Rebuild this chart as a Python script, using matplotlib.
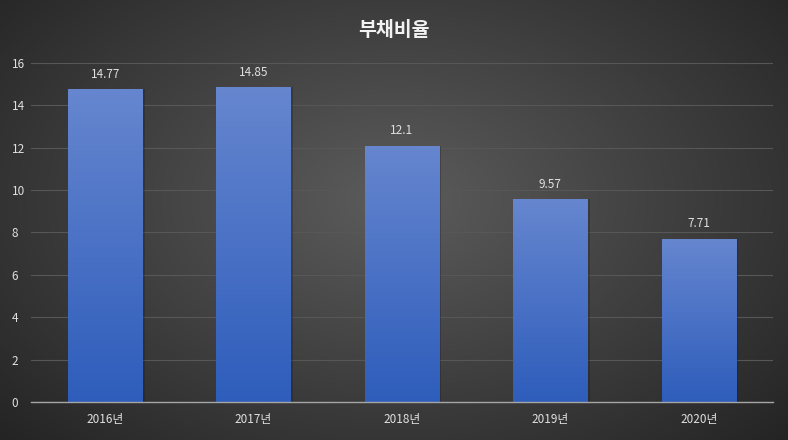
import numpy as np
import matplotlib.pyplot as plt
from matplotlib.colors import LinearSegmentedColormap

plt.rcParams['font.family'] = ['Noto Sans CJK KR', 'DejaVu Sans']

years = ['2016년', '2017년', '2018년', '2019년', '2020년']
ratios = [14.77, 14.85, 12.1, 9.57, 7.71]
value_labels = ['14.77', '14.85', '12.1', '9.57', '7.71']
y_ticks = [0, 2, 4, 6, 8, 10, 12, 14, 16]

fig = plt.figure(figsize=(7.88, 4.40), dpi=100)

# radial background
bg = fig.add_axes([0, 0, 1, 1])
yy, xx = np.mgrid[0:440, 0:788]
r = np.sqrt(((xx - 394) / 560.0) ** 2 + ((yy - 200) / 360.0) ** 2)
r = np.clip(r, 0, 1)
bg_cmap = LinearSegmentedColormap.from_list('bg', ['#5c5c5c', '#242424'])
bg.imshow(r, cmap=bg_cmap, aspect='auto', extent=[0, 1, 0, 1], origin='upper')
bg.set_axis_off()

ax = fig.add_axes([0.0393, 0.0864, 0.9417, 0.7706])
ax.patch.set_alpha(0)
x = np.arange(len(years))
bars = ax.bar(x, ratios, width=0.5, color='none', zorder=3)

bar_cmap = LinearSegmentedColormap.from_list('bar', ['#2e5dbb', '#6686cf'])
grad = np.linspace(0, 1, 256).reshape(-1, 1)
for b, h in zip(bars, ratios):
    x0 = b.get_x()
    # soft shadow on right side
    ax.bar(x0 + b.get_width() / 2 + 0.015, h, width=b.get_width(), color='#1a1a1a',
           alpha=0.3, zorder=2)
    im = ax.imshow(grad, cmap=bar_cmap, aspect='auto', origin='lower',
                   extent=[x0, x0 + b.get_width(), 0, h], zorder=3)
    im.set_clip_path(b)

for xi, h, lab in zip(x, ratios, value_labels):
    ax.text(xi, h + 0.4, lab, ha='center', va='bottom', color='#e0e0e0', fontsize=8.5)

ax.set_xlim(-0.5, len(years) - 0.5)
ax.set_ylim(0, 16)
ax.set_yticks(y_ticks)
ax.set_xticks(x)
ax.set_xticklabels(years)
ax.tick_params(axis='both', length=0, colors='#e0e0e0', labelsize=8.5)
ax.tick_params(axis='x', pad=8)
ax.tick_params(axis='y', pad=14)
for lbl in ax.get_yticklabels():
    lbl.set_horizontalalignment('left')
ax.yaxis.grid(True, color='#575757', linewidth=0.8, zorder=0)
for s in ['top', 'right', 'left']:
    ax.spines[s].set_visible(False)
ax.spines['bottom'].set_color('#a6a6a6')
ax.spines['bottom'].set_linewidth(1)
ax.spines['bottom'].set_zorder(4)

fig.text(0.5, 0.93, '부채비율', ha='center', va='center', color='#f2f2f2',
         fontsize=14, fontweight='bold')

fig.savefig('out.png', dpi=100)
